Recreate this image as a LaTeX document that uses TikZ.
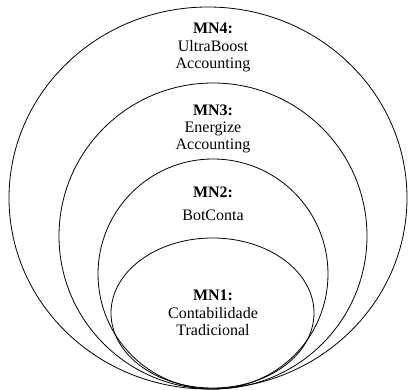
\documentclass[tikz,border=0pt]{standalone}
\usepackage{fontspec}
\setmainfont{Liberation Serif}
\begin{document}
\begin{tikzpicture}[x=1pt,y=1pt,
  ring/.style={draw=black,line width=0.8pt},
  lbl/.style={align=center,font=\fontsize{16}{17}\selectfont,inner sep=0pt}]
\useasboundingbox (0,0) rectangle (408,390);
\draw[ring] (208,192) ellipse [x radius=199,y radius=191];
\draw[ring] (213,154) ellipse [x radius=154,y radius=153];
\draw[ring] (213,116) ellipse [x radius=115,y radius=115];
\draw[ring] (212.5,77) ellipse [x radius=101.5,y radius=75];
\node[lbl] (t4) at (213,362) {\textbf{MN4:}};
\node[lbl,anchor=north] (d4) at (213,350) {UltraBoost\\Accounting};
\node[lbl] (t3) at (213,280) {\textbf{MN3:}};
\node[lbl,anchor=north] (d3) at (213,268) {Energize\\Accounting};
\node[lbl] (t2) at (213,198) {\textbf{MN2:}};
\node[lbl] (d2) at (213,175) {BotConta};
\node[lbl] (t1) at (213,95) {\textbf{MN1:}};
\node[lbl,anchor=north] (d1) at (213,83) {Contabilidade\\Tradicional};
\end{tikzpicture}
\end{document}
